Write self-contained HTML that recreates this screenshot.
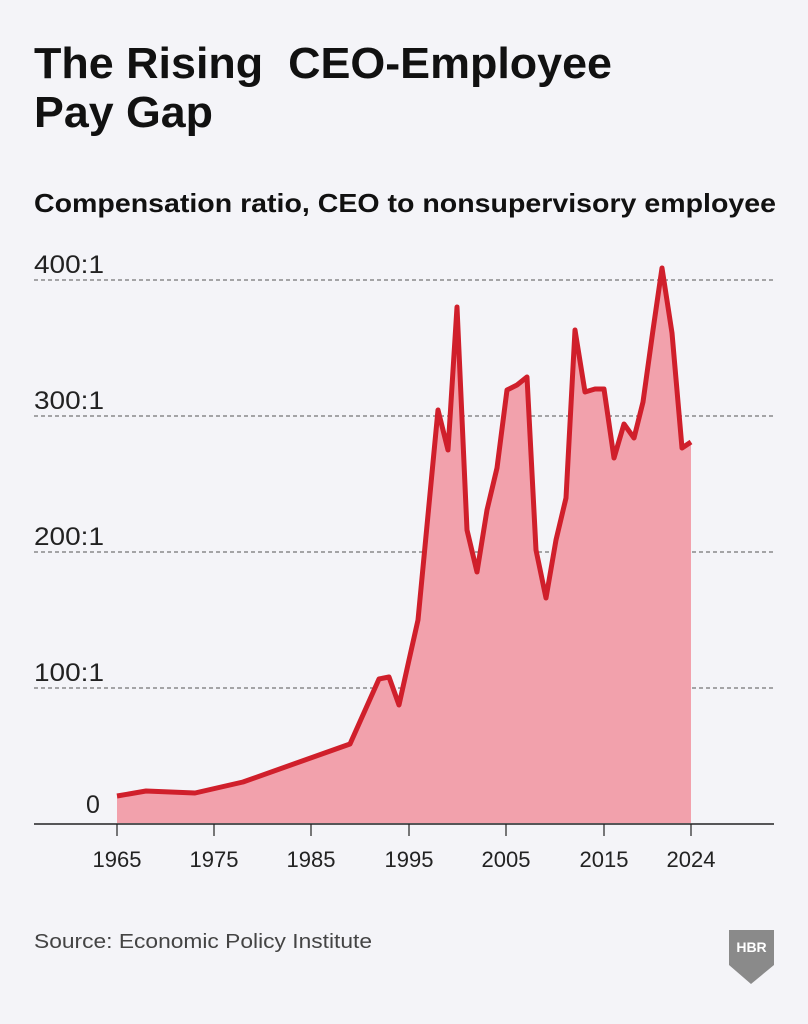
<!DOCTYPE html>
<html><head><meta charset="utf-8"><style>
body{margin:0;background:#f4f4f8;}
.w{position:relative;width:808px;height:1024px;background:#f4f4f8;overflow:hidden}
</style></head><body><div class="w">
<svg width="808" height="1024" style="position:absolute;left:0;top:0" font-family="Liberation Sans">
<text x="34" y="78" font-size="44" font-weight="bold" fill="#111" textLength="578" lengthAdjust="spacingAndGlyphs">The Rising&#160; CEO-Employee</text>
<text x="34" y="127" font-size="44" font-weight="bold" fill="#111" textLength="179" lengthAdjust="spacingAndGlyphs">Pay Gap</text>
<text x="34" y="212" font-size="26" font-weight="bold" fill="#111" textLength="742" lengthAdjust="spacingAndGlyphs">Compensation ratio, CEO to nonsupervisory employee</text>
<g stroke="#555" stroke-dasharray="4,3" stroke-width="1">
<line x1="34" y1="280" x2="774" y2="280"/><line x1="34" y1="416" x2="774" y2="416"/>
<line x1="34" y1="552" x2="774" y2="552"/><line x1="34" y1="688" x2="774" y2="688"/>
</g>
<g font-size="25" fill="#222">
<text x="34" y="273" textLength="70" lengthAdjust="spacingAndGlyphs">400:1</text><text x="34" y="409" textLength="70" lengthAdjust="spacingAndGlyphs">300:1</text>
<text x="34" y="545" textLength="70" lengthAdjust="spacingAndGlyphs">200:1</text><text x="34" y="681" textLength="70" lengthAdjust="spacingAndGlyphs">100:1</text>
<text x="86" y="813">0</text>
</g>
<polygon fill="#f2a1ac" points="117,796 146,791 195,793 243,782 350,744 379,679 389,677 399,705 409,660 418,620 438,410 448,450 457,307 467,530 477,572 487,510 497,468 507,390 517,385 527,377 536,550 546,598 556,540 566,498 575,330 585,392 595,389 604,389 614,458 624,424 634,438 643,402 653,330 662,268 672,333 682,448 691,442 691,823 117,823"/>
<polyline fill="none" stroke="#d01f2b" stroke-width="5" stroke-linejoin="round" points="117,796 146,791 195,793 243,782 350,744 379,679 389,677 399,705 409,660 418,620 438,410 448,450 457,307 467,530 477,572 487,510 497,468 507,390 517,385 527,377 536,550 546,598 556,540 566,498 575,330 585,392 595,389 604,389 614,458 624,424 634,438 643,402 653,330 662,268 672,333 682,448 691,442"/>
<line x1="34" y1="824" x2="774" y2="824" stroke="#222" stroke-width="1.5"/>
<g stroke="#222" stroke-width="1.2">
<line x1="117" y1="824" x2="117" y2="836"/><line x1="214" y1="824" x2="214" y2="836"/>
<line x1="311" y1="824" x2="311" y2="836"/><line x1="409" y1="824" x2="409" y2="836"/>
<line x1="506" y1="824" x2="506" y2="836"/><line x1="604" y1="824" x2="604" y2="836"/>
<line x1="691" y1="824" x2="691" y2="836"/>
</g>
<g font-size="22" fill="#222" text-anchor="middle">
<text x="117" y="867">1965</text><text x="214" y="867">1975</text><text x="311" y="867">1985</text>
<text x="409" y="867">1995</text><text x="506" y="867">2005</text><text x="604" y="867">2015</text>
<text x="691" y="867">2024</text>
</g>
<text x="34" y="948" font-size="20" fill="#444" textLength="338" lengthAdjust="spacingAndGlyphs">Source: Economic Policy Institute</text>
<path d="M729,930 H774 V965 L751,984 L729,965 Z" fill="#8a8a8a"/>
<text x="751.5" y="952" font-weight="bold" font-size="14" fill="#fff" text-anchor="middle">HBR</text>
</svg>
</div></body></html>
